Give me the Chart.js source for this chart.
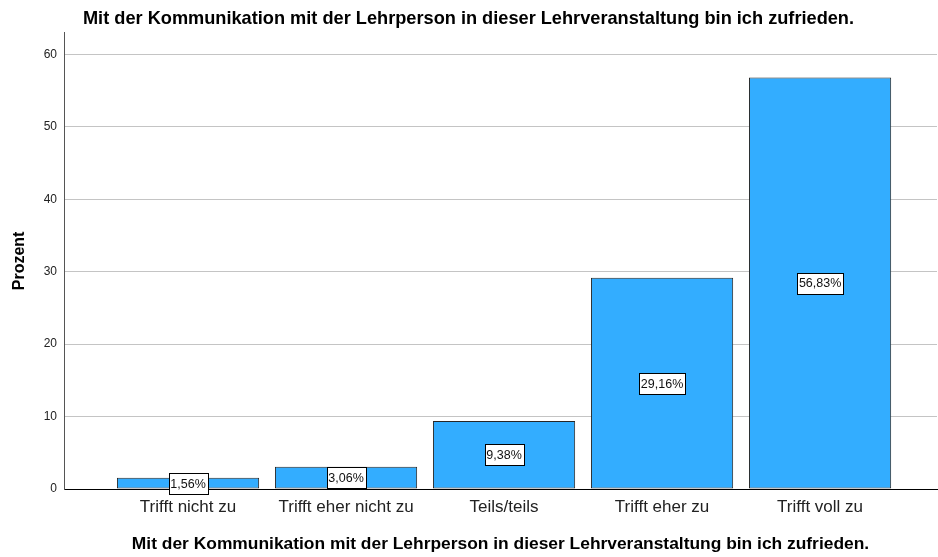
<!DOCTYPE html>
<html>
<head>
<meta charset="utf-8">
<script src="https://cdn.jsdelivr.net/npm/chart.js@4/dist/chart.umd.min.js"></script>
<style>
  html, body { margin: 0; padding: 0; background: #fff; }
  #wrap { width: 938px; height: 557px; }
</style>
</head>
<body>
<div id="wrap"><canvas id="barChart" width="938" height="557"></canvas></div>
<script>
// --- Daten ---
const categories = ['Trifft nicht zu', 'Trifft eher nicht zu', 'Teils/teils', 'Trifft eher zu', 'Trifft voll zu'];
const percents = [1.56, 3.06, 9.38, 29.16, 56.83];
const yTicks = [0, 10, 20, 30, 40, 50, 60];
const titleText = 'Mit der Kommunikation mit der Lehrperson in dieser Lehrveranstaltung bin ich zufrieden.';
const yTitle = 'Prozent';

const FONT = '"Liberation Sans", Arial, sans-serif';

// --- Beschriftungen in der Mitte der Balken ---
const valueLabels = {
  id: 'valueLabels',
  afterDatasetsDraw(chart) {
    const ctx = chart.ctx;
    const meta = chart.getDatasetMeta(0);
    ctx.save();
    ctx.font = '12.5px ' + FONT;
    ctx.textAlign = 'center';
    ctx.textBaseline = 'middle';
    meta.data.forEach((bar, i) => {
      const p = bar.getProps(['x', 'y', 'base'], true);
      const txt = percents[i].toFixed(2).replace('.', ',') + '%';
      const w = Math.round(ctx.measureText(txt).width + 4);
      const h = 21;
      const cy = (p.y + p.base) / 2;
      const bx = Math.round(p.x - w / 2) + 0.5;
      const by = Math.round(cy - h / 2) + 0.5;
      ctx.fillStyle = '#ffffff';
      ctx.fillRect(bx, by, w, h);
      ctx.strokeStyle = '#000000';
      ctx.lineWidth = 1;
      ctx.strokeRect(bx, by, w, h);
      ctx.fillStyle = '#111111';
      ctx.fillText(txt, p.x, cy + 1);
    });
    ctx.restore();
  }
};

new Chart(document.getElementById('barChart'), {
  type: 'bar',
  data: {
    datasets: [{
      data: percents.map((v, i) => ({ x: i, y: v })),
      backgroundColor: '#33adff',
      borderColor: '#262626',
      borderWidth: 1,
      borderSkipped: false,
      categoryPercentage: 1,
      barPercentage: 0.9
    }]
  },
  options: {
    responsive: false,
    animation: false,
    layout: { padding: { left: 0, right: 1, top: 0, bottom: 0 } },
    plugins: {
      legend: { display: false },
      tooltip: { enabled: false },
      title: {
        display: true,
        text: titleText,
        color: '#000',
        font: { family: FONT, size: 18.2, weight: 'bold' },
        padding: { top: 8, bottom: 3 }
      }
    },
    scales: {
      x: {
        type: 'linear',
        offset: false,
        min: -0.785,
        max: 4.74,
        afterBuildTicks: s => { s.ticks = categories.map((c, i) => ({ value: i })); },
        afterFit: s => { s.height = 68; },
        ticks: {
          callback: v => categories[v],
          color: '#222',
          font: { family: FONT, size: 17 },
          padding: 8,
          autoSkip: false,
          maxRotation: 0
        },
        grid: { display: false, drawTicks: false, offset: false },
        border: { color: '#000', width: 1 },
        title: {
          display: true,
          text: titleText,
          color: '#000',
          font: { family: FONT, size: 17.4, weight: 'bold' },
          padding: { top: 0, bottom: 2 }
        }
      },
      y: {
        min: 0,
        max: 63,
        afterBuildTicks: s => { s.ticks = yTicks.map(v => ({ value: v })); },
        afterFit: s => { s.width = 64; },
        ticks: {
          color: '#222',
          font: { family: FONT, size: 12 },
          padding: 7
        },
        grid: { color: '#c4c4c4', lineWidth: 1, drawTicks: false },
        border: { color: '#555', width: 1 },
        title: {
          display: true,
          text: yTitle,
          color: '#000',
          font: { family: FONT, size: 16, weight: 'bold' },
          padding: { top: 10, bottom: 0 }
        }
      }
    }
  },
  plugins: [valueLabels]
});
</script>
</body>
</html>
